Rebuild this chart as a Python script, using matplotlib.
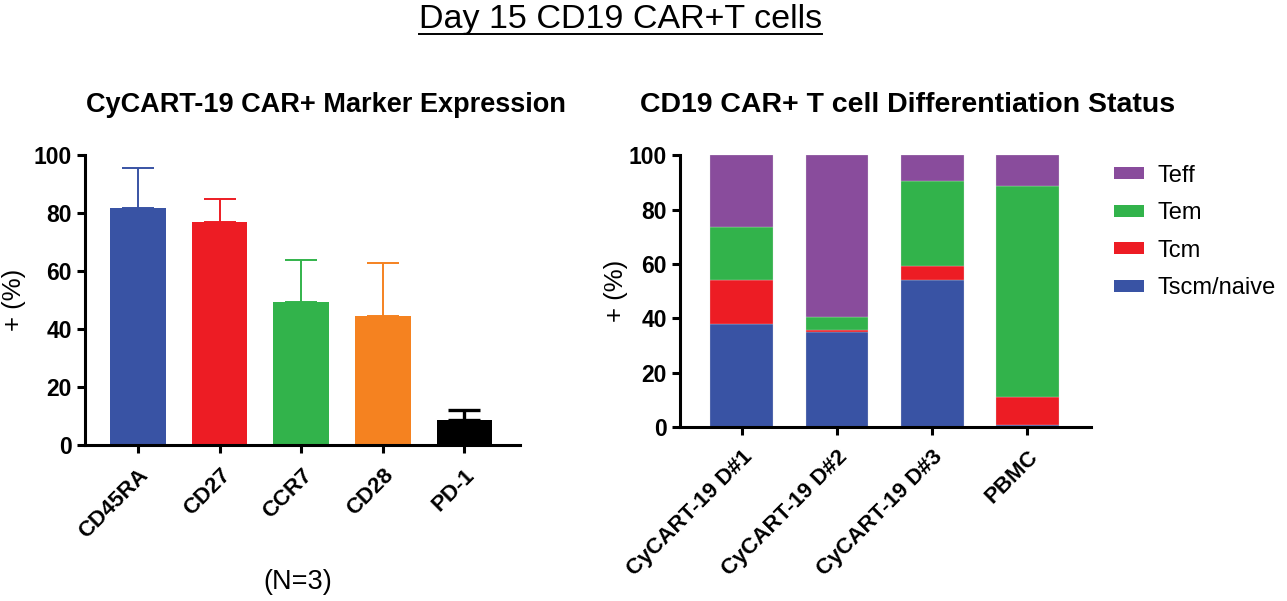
import matplotlib
matplotlib.use("Agg")
import matplotlib.pyplot as plt
from matplotlib.lines import Line2D
from matplotlib.patches import Patch

plt.rcParams['font.family'] = ['Liberation Sans', 'DejaVu Sans']

# left panel: marker expression (mean + upper SD)
markers = ["CD45RA", "CD27", "CCR7", "CD28", "PD-1"]
marker_mean = [81.8, 76.8, 49.4, 44.6, 8.6]
marker_err = [13.6, 8.1, 14.5, 18.2, 3.5]
marker_colors = ["#3953A4", "#ED1C24", "#32B34B", "#F58220", "#000000"]

# right panel: differentiation status (stacked %)
samples = ["CyCART-19 D#1", "CyCART-19 D#2", "CyCART-19 D#3", "PBMC"]
tscm = [38.0, 35.1, 54.1, 0.9]
tcm = [16.1, 0.6, 5.1, 10.3]
tem = [19.3, 4.7, 31.4, 77.5]
teff = [26.6, 59.6, 9.4, 11.3]
subset_names = ["Tscm/naive", "Tcm", "Tem", "Teff"]
subset_colors = ["#3953A4", "#ED1C24", "#32B34B", "#894C9C"]

SPINE = 2.2


def style_axes(ax):
    for s in ["top", "right"]:
        ax.spines[s].set_visible(False)
    for s in ["left", "bottom"]:
        ax.spines[s].set_linewidth(SPINE)
    ax.tick_params(axis="both", width=SPINE, length=6, direction="out")
    ax.tick_params(axis="x", pad=8)
    ax.set_ylim(0, 100)
    ax.set_yticks([0, 20, 40, 60, 80, 100])
    for lab in ax.get_yticklabels():
        lab.set_fontweight("bold")
        lab.set_fontsize(16.5)
    ax.set_ylabel("+ (%)", fontsize=18.5)


fig = plt.figure(figsize=(12.87, 6.01), dpi=100)
ax1 = fig.add_axes([0.066, 0.2596, 0.338, 0.4825])
ax2 = fig.add_axes([0.5284, 0.289, 0.3193, 0.453])

# left chart
x1 = list(range(len(markers)))
ax1.bar(x1, marker_mean, width=0.68, color=marker_colors, zorder=2)
for xi, m, e, c in zip(x1, marker_mean, marker_err, marker_colors):
    lw = 2.4 if c == "#000000" else 1.4
    ax1.errorbar(xi, m, yerr=[[0], [e]], fmt="none", ecolor=c,
                 elinewidth=lw, capsize=11.5, capthick=lw, zorder=1)
ax1.set_xlim(-0.65, 4.68)
style_axes(ax1)
ax1.yaxis.set_label_coords(-0.135, 0.5)
ax1.set_xticks(x1)
ax1.set_xticklabels(markers, rotation=45, ha="right", rotation_mode="anchor",
                    fontsize=16, fontweight="bold")
ax1.set_title("CyCART-19 CAR+ Marker Expression", fontsize=19.5,
              fontweight="bold", pad=31, x=0.553)

# right chart
x2 = list(range(len(samples)))
bottom = [0.0] * len(samples)
for vals, name, col in zip([tscm, tcm, tem, teff], subset_names, subset_colors):
    ax2.bar(x2, vals, width=0.66, bottom=bottom, color=col, label=name,
            edgecolor="#dddddd", linewidth=0.2)
    bottom = [b + v for b, v in zip(bottom, vals)]
ax2.set_xlim(-0.65, 3.67)
style_axes(ax2)
ax2.yaxis.set_label_coords(-0.127, 0.5)
ax2.set_xticks(x2)
ax2.set_xticklabels(samples, rotation=45, ha="right", rotation_mode="anchor",
                    fontsize=16, fontweight="bold")
ax2.set_title("CD19 CAR+ T cell Differentiation Status", fontsize=20.5,
              fontweight="bold", pad=31, x=0.553)

handles = [Patch(facecolor=c, label=n) for n, c in
           zip(subset_names[::-1], subset_colors[::-1])]
ax2.legend(handles=handles, loc="upper left", bbox_to_anchor=(1.033, 1.0),
           frameon=False, fontsize=17, handlelength=1.25, handleheight=0.4,
           handletextpad=0.6, labelspacing=0.66, borderaxespad=0.0)

# footnote and main title
fig.text(0.231, 0.01, "(N=3)", fontsize=19.5, ha="center", va="bottom")
title = fig.text(0.482, 0.953, "Day 15 CD19 CAR+T cells", fontsize=24.5,
                 ha="center", va="baseline")

# underline the main title
fig.canvas.draw()
bb = title.get_window_extent().transformed(fig.transFigure.inverted())
y_ul = bb.y0 + 0.002
fig.lines.append(Line2D([bb.x0, bb.x1], [y_ul, y_ul], transform=fig.transFigure,
                        color="black", linewidth=1.4))

fig.savefig("out.png", dpi=100)
